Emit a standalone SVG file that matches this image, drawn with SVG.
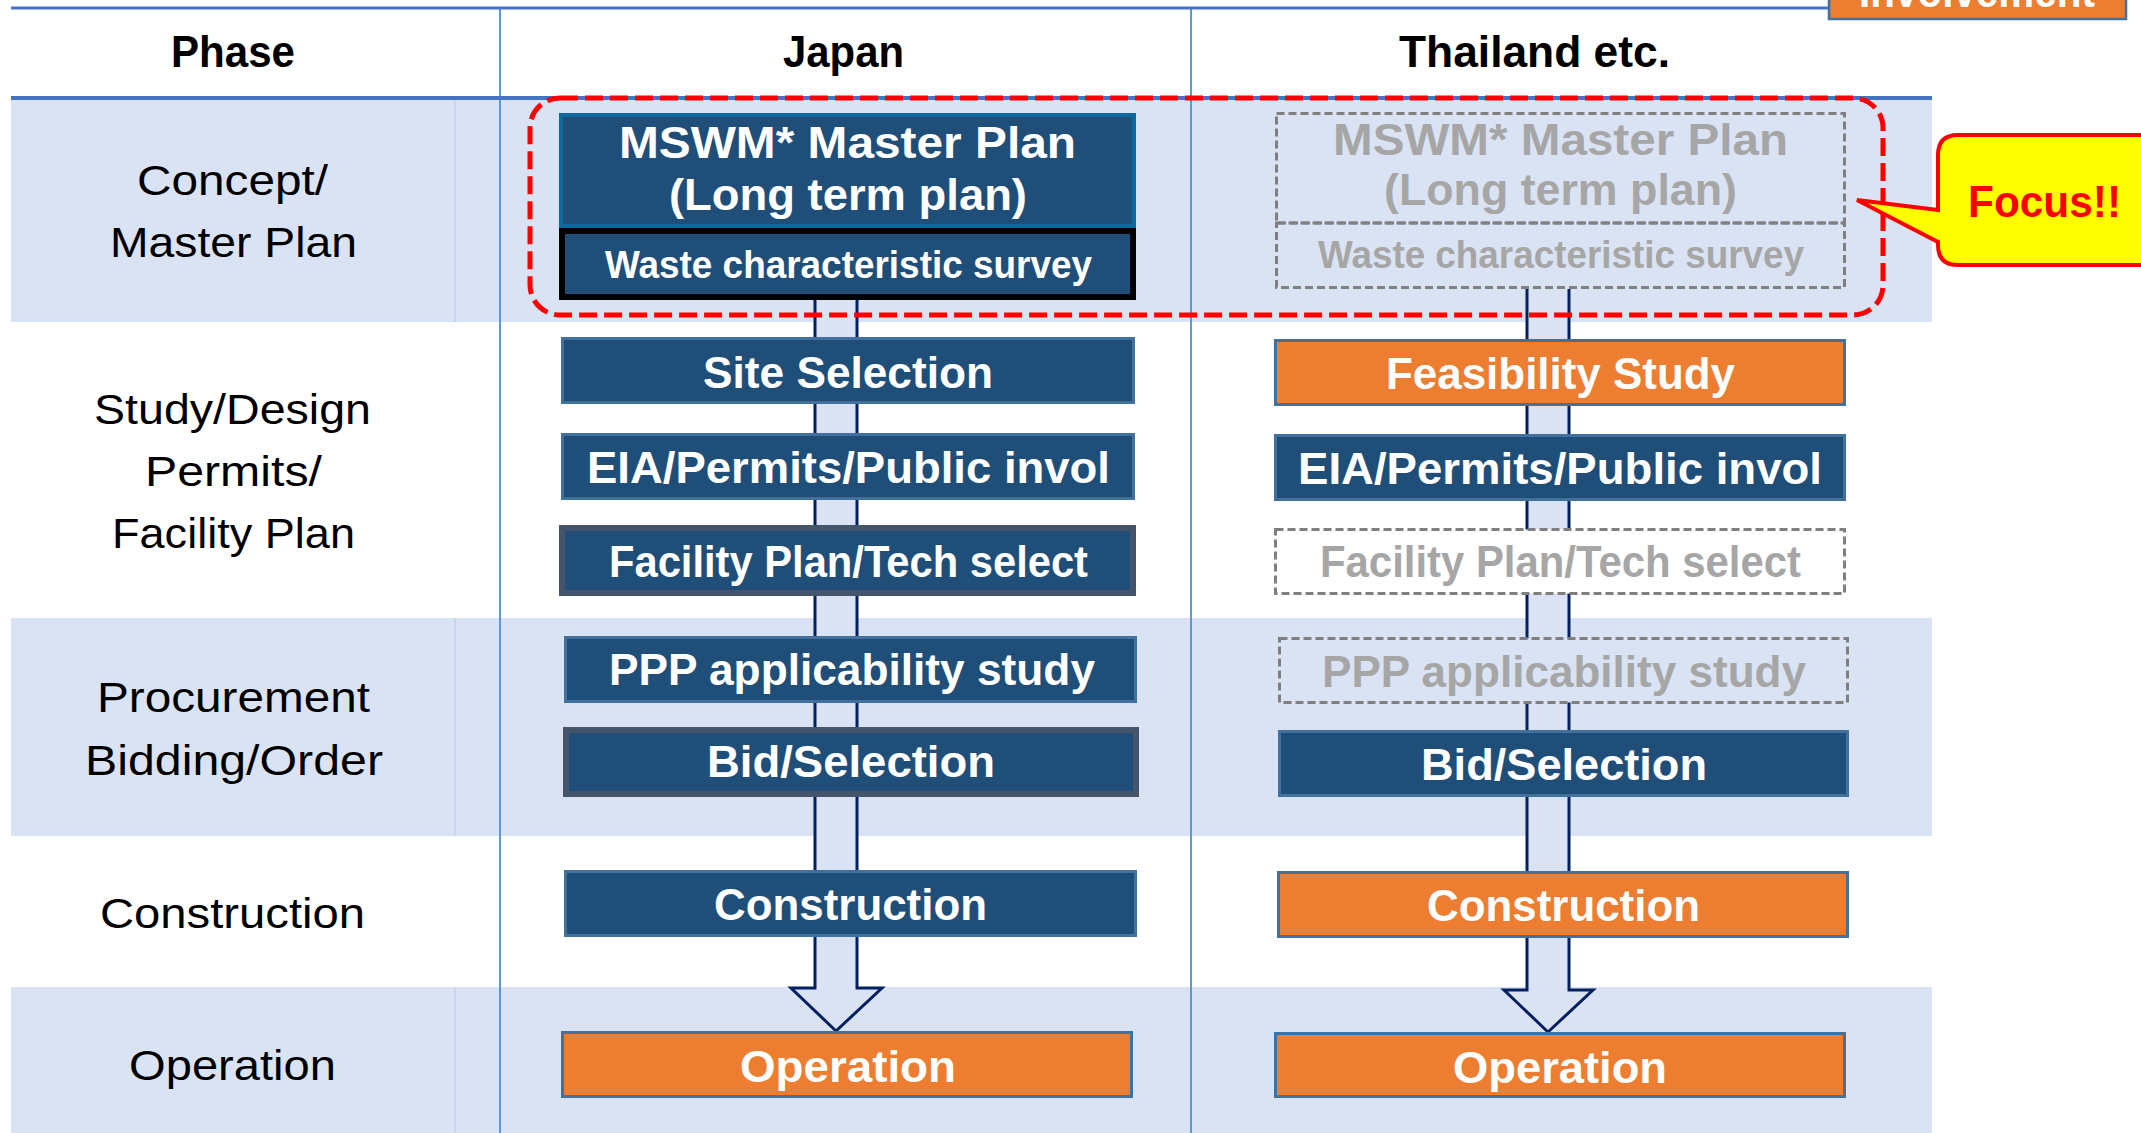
<svg xmlns="http://www.w3.org/2000/svg" width="2141" height="1133" viewBox="0 0 2141 1133">
<style>
.bg{fill:#ffffff}
.band{fill:#dae3f3}
.hd{font-family:"Liberation Sans",Arial,sans-serif;font-weight:bold;font-size:44px;fill:#000;text-anchor:middle}
.ph{font-family:"Liberation Sans",Arial,sans-serif;font-size:43px;fill:#000;text-anchor:middle}
.bt{font-family:"Liberation Sans",Arial,sans-serif;font-weight:bold;font-size:44px;fill:#fff;text-anchor:middle}
.gt{font-family:"Liberation Sans",Arial,sans-serif;font-weight:bold;font-size:44px;fill:#a6a6a6;text-anchor:middle}
.sm{font-size:38px}
.db{fill:#1f4e79;stroke:#41719c;stroke-width:3}
.or{fill:#ed7d31;stroke:#41719c;stroke-width:3}
.dk{fill:#1f4e79;stroke:#44546a;stroke-width:6}
.gd{stroke:#7f7f7f;stroke-width:3;stroke-dasharray:8 4}
.col{stroke:#5b9bd5;stroke-width:2;fill:none}
.arw{fill:#dae3f3;stroke:none}
.arl{fill:none;stroke:#002060;stroke-width:3;stroke-linejoin:miter}
</style>
<rect class="bg" x="0" y="0" width="2141" height="1133"/>
<g id="table">
<rect class="band" x="11" y="98" width="1921" height="224"/>
<rect class="band" x="11" y="618" width="1921" height="218"/>
<rect class="band" x="11" y="987" width="1921" height="146"/>
<line x1="455" y1="98" x2="455" y2="322" stroke="#c2d2ec" stroke-width="1.5"/>
<line x1="455" y1="618" x2="455" y2="836" stroke="#c2d2ec" stroke-width="1.5"/>
<line x1="455" y1="987" x2="455" y2="1133" stroke="#c2d2ec" stroke-width="1.5"/>
<line class="col" x1="500" y1="8" x2="500" y2="1133"/>
<line class="col" x1="1191" y1="8" x2="1191" y2="1133"/>
<line x1="11" y1="8" x2="1830" y2="8" stroke="#4472c4" stroke-width="3"/>
<line x1="11" y1="98" x2="1932" y2="98" stroke="#4472c4" stroke-width="4"/>
<text class="hd" x="233" y="67" textLength="124" lengthAdjust="spacingAndGlyphs">Phase</text>
<text class="hd" x="843.5" y="67" textLength="121" lengthAdjust="spacingAndGlyphs">Japan</text>
<text class="hd" x="1534.5" y="67" textLength="271" lengthAdjust="spacingAndGlyphs">Thailand etc.</text>
<text class="ph" x="232.5" y="195" textLength="191" lengthAdjust="spacingAndGlyphs">Concept/</text>
<text class="ph" x="233.5" y="257" textLength="247" lengthAdjust="spacingAndGlyphs">Master Plan</text>
<text class="ph" x="232.5" y="424" textLength="277" lengthAdjust="spacingAndGlyphs">Study/Design</text>
<text class="ph" x="233.5" y="486" textLength="177" lengthAdjust="spacingAndGlyphs">Permits/</text>
<text class="ph" x="233.5" y="548" textLength="243" lengthAdjust="spacingAndGlyphs">Facility Plan</text>
<text class="ph" x="233.5" y="712" textLength="273" lengthAdjust="spacingAndGlyphs">Procurement</text>
<text class="ph" x="234" y="775" textLength="298" lengthAdjust="spacingAndGlyphs">Bidding/Order</text>
<text class="ph" x="232.5" y="928" textLength="265" lengthAdjust="spacingAndGlyphs">Construction</text>
<text class="ph" x="232.5" y="1080" textLength="207" lengthAdjust="spacingAndGlyphs">Operation</text>
</g>
<g id="legend-involvement">
<rect x="1829" y="-40" width="297" height="59" fill="#ed7d31" stroke="#41719c" stroke-width="2.5"/>
<text class="bt" x="1977" y="7" textLength="236" lengthAdjust="spacingAndGlyphs">Involvement</text>
</g>
<g id="connectors">
<path class="arw" d="M815,290 V988 H791 L836,1031 L882,988 H857 V290 Z"/>
<path class="arl" d="M815,290 V988 H791 L836,1031 L882,988 H857 V290"/>
<path class="arw" d="M1527,289 V990 H1504 L1548,1032 L1593,990 H1569 V289 Z"/>
<path class="arl" d="M1527,289 V990 H1504 L1548,1032 L1593,990 H1569 V289"/>
</g>
<g id="jp-master-plan">
<rect x="561" y="115" width="573" height="111" fill="#1f4e79" stroke="#0b6a9e" stroke-width="4"/>
<text class="bt" x="847.5" y="158" textLength="457" lengthAdjust="spacingAndGlyphs">MSWM* Master Plan</text>
<text class="bt" x="848" y="210" textLength="358" lengthAdjust="spacingAndGlyphs">(Long term plan)</text>
</g>
<g id="jp-waste-survey">
<rect x="562" y="231" width="571" height="66" fill="#1f4e79" stroke="#000" stroke-width="6"/>
<text class="bt sm" x="848.5" y="278" textLength="487" lengthAdjust="spacingAndGlyphs">Waste characteristic survey</text>
</g>
<g id="jp-site-selection">
<rect class="db" x="562.5" y="338.5" width="571" height="64"/>
<text class="bt" x="848" y="388" textLength="290" lengthAdjust="spacingAndGlyphs">Site Selection</text>
</g>
<g id="jp-eia">
<rect class="db" x="562.5" y="434.5" width="571" height="64"/>
<text class="bt" x="848.5" y="483" textLength="523" lengthAdjust="spacingAndGlyphs">EIA/Permits/Public invol</text>
</g>
<g id="jp-facility-plan">
<rect class="dk" x="562" y="528" width="571" height="65"/>
<text class="bt" x="848.5" y="577" textLength="479" lengthAdjust="spacingAndGlyphs">Facility Plan/Tech select</text>
</g>
<g id="jp-ppp">
<rect class="db" x="565.5" y="637.5" width="570" height="64"/>
<text class="bt" x="852" y="685" textLength="486" lengthAdjust="spacingAndGlyphs">PPP applicability study</text>
</g>
<g id="jp-bid">
<rect class="dk" x="566" y="730" width="570" height="64"/>
<text class="bt" x="851" y="777" textLength="288" lengthAdjust="spacingAndGlyphs">Bid/Selection</text>
</g>
<g id="jp-construction">
<rect class="db" x="565.5" y="871.5" width="570" height="64"/>
<text class="bt" x="850.5" y="920" textLength="273" lengthAdjust="spacingAndGlyphs">Construction</text>
</g>
<g id="jp-operation">
<rect class="or" x="562.5" y="1032.5" width="569" height="64"/>
<text class="bt" x="848" y="1082" textLength="216" lengthAdjust="spacingAndGlyphs">Operation</text>
</g>
<g id="th-master-plan">
<rect class="gd" x="1276.5" y="113.5" width="568" height="109.5" fill="none"/>
<text class="gt" x="1560.5" y="155" textLength="455" lengthAdjust="spacingAndGlyphs">MSWM* Master Plan</text>
<text class="gt" x="1560.5" y="205" textLength="353" lengthAdjust="spacingAndGlyphs">(Long term plan)</text>
</g>
<g id="th-waste-survey">
<rect class="gd" x="1276.5" y="223" width="568" height="64.5" fill="none"/>
<text class="gt sm" x="1561" y="268" textLength="486" lengthAdjust="spacingAndGlyphs">Waste characteristic survey</text>
</g>
<g id="th-feasibility">
<rect class="or" x="1275.5" y="340.5" width="569" height="64"/>
<text class="bt" x="1560.5" y="389" textLength="349" lengthAdjust="spacingAndGlyphs">Feasibility Study</text>
</g>
<g id="th-eia">
<rect class="db" x="1275.5" y="435.5" width="569" height="64"/>
<text class="bt" x="1560" y="484" textLength="524" lengthAdjust="spacingAndGlyphs">EIA/Permits/Public invol</text>
</g>
<g id="th-facility-plan">
<rect class="gd" x="1275.5" y="529.5" width="569" height="64" fill="#fff"/>
<text class="gt" x="1560.5" y="577" textLength="481" lengthAdjust="spacingAndGlyphs">Facility Plan/Tech select</text>
</g>
<g id="th-ppp">
<rect class="gd" x="1279.5" y="638.5" width="568" height="64" fill="#dae3f3"/>
<text class="gt" x="1564" y="687" textLength="484" lengthAdjust="spacingAndGlyphs">PPP applicability study</text>
</g>
<g id="th-bid">
<rect class="db" x="1279.5" y="731.5" width="568" height="64"/>
<text class="bt" x="1564" y="780" textLength="286" lengthAdjust="spacingAndGlyphs">Bid/Selection</text>
</g>
<g id="th-construction">
<rect class="or" x="1278.5" y="872.5" width="569" height="64"/>
<text class="bt" x="1563.5" y="921" textLength="273" lengthAdjust="spacingAndGlyphs">Construction</text>
</g>
<g id="th-operation">
<rect class="or" x="1275.5" y="1033.5" width="569" height="63"/>
<text class="bt" x="1560" y="1083" textLength="214" lengthAdjust="spacingAndGlyphs">Operation</text>
</g>
<g id="focus-frame">
<rect x="530" y="98" width="1353" height="217" rx="30" ry="30" fill="none" stroke="#ff0000" stroke-width="5" stroke-dasharray="18 7"/>
</g>
<g id="focus-callout">
<path d="M1958,135 H2170 V265 H1958 Q1938,265 1938,245 V242 L1857,200 L1938,210 V155 Q1938,135 1958,135 Z" fill="#ffff00" stroke="#ff0000" stroke-width="4" stroke-linejoin="miter"/>
<text x="2044.5" y="217" font-family="Liberation Sans, Arial, sans-serif" font-weight="bold" font-size="44" fill="#ff0000" text-anchor="middle" textLength="153" lengthAdjust="spacingAndGlyphs">Focus!!</text>
</g>
</svg>
